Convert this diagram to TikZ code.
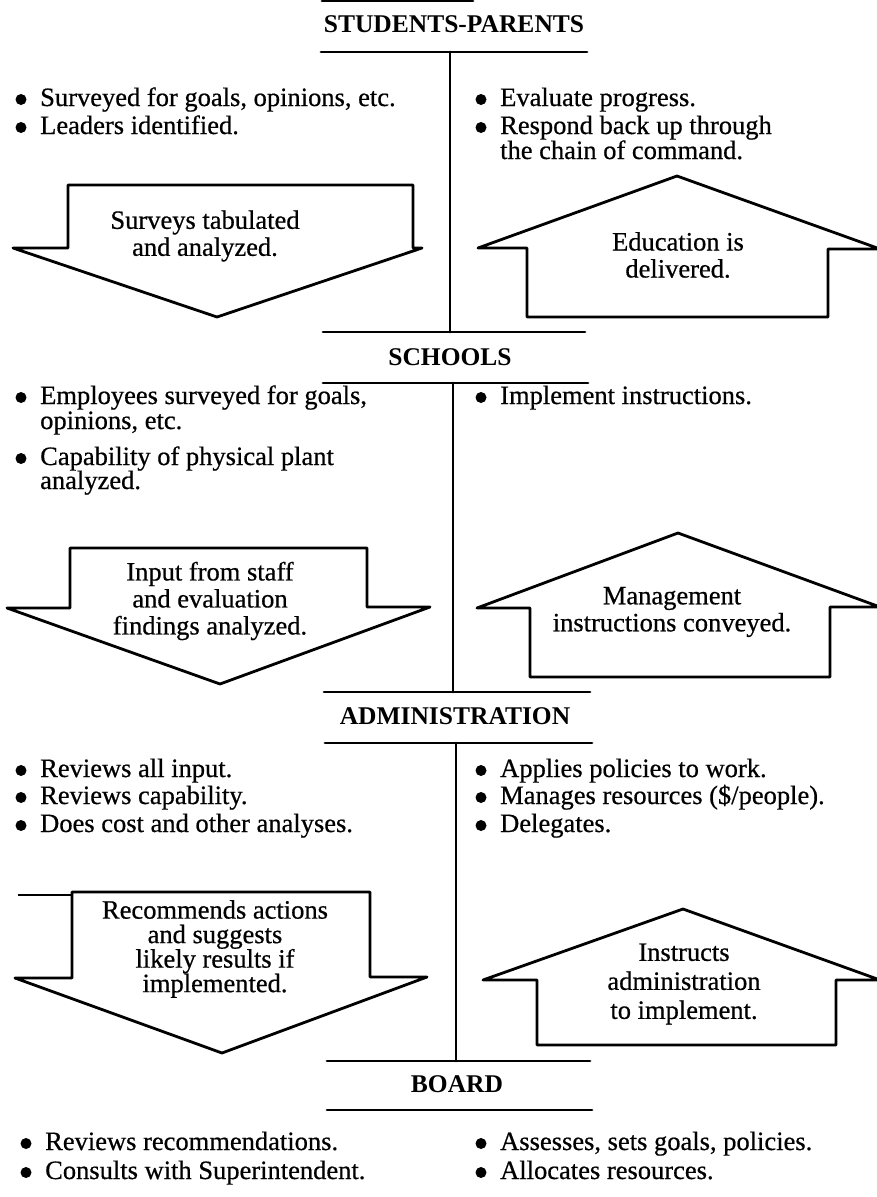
\documentclass[tikz,border=0pt]{standalone}
\usepackage{fontspec}
\setmainfont{Liberation Serif}
\newfontfamily\bodyfont{Liberation Serif}[FakeBold=0.6]
\newcommand\bitem[4]{%
  \node[txt] (#1) at (#2,#3) {#4};
  \fill ([xshift=-19pt]#1.base west) ++(0,-6.5) circle (5.5);
}
\begin{document}
\begin{tikzpicture}[x=1pt,y=-1pt,
  hd/.style={font=\fontsize{25.5}{30}\selectfont\bfseries, inner sep=0pt},
  txt/.style={font=\bodyfont\fontsize{26.5}{28}\selectfont, inner sep=0pt, anchor=base west},
  atxt/.style={font=\bodyfont\fontsize{26.5}{27}\selectfont, inner sep=0pt, align=center},
  ln/.style={line width=2.8pt, line cap=round},
  arr/.style={line width=2.8pt, line join=round}]
\useasboundingbox (0,0) rectangle (876,1197);

% ---------- STUDENTS-PARENTS ----------
\draw[ln] (322,1) -- (473,1);
\node[hd] (sp) at (454,24) {STUDENTS-PARENTS};
\draw[ln] (321,52) coordinate (sp1) -- (587,52) coordinate (sp2);
\coordinate (v1a) at (450,52);
\coordinate (v1b) at (450,332);
\draw[ln] (v1a) -- (v1b);

\bitem{s1a}{40}{106}{Surveyed for goals, opinions, etc.}
\bitem{s1b}{40}{134}{Leaders identified.}
\bitem{s1c}{500}{106}{Evaluate progress.}
\bitem{s1d}{500}{134}{Respond back up through}
\node[txt] (s1d2) at (500,159) {the chain of command.};

\draw[arr] (68,185) -- (413,185) -- (413,248) -- (422,248) -- (217,317) -- (13,248) -- (68,248) -- cycle;
\node[atxt] (a1) at (205,236) {Surveys tabulated\\and analyzed.};
\draw[arr] (527,317) -- (527,248) -- (478,248) -- (677,176) -- (880,249) -- (828,249) -- (828,317) -- cycle;
\node[atxt] (b1) at (678,255) {Education is\\delivered.};

% ---------- SCHOOLS ----------
\draw[ln] (323,332) -- (585,332);
\node[hd] (sch) at (450,357) {SCHOOLS};
\draw[ln] (323,383) -- (588,383);
\coordinate (v2a) at (453,383);
\coordinate (v2b) at (453,692);
\draw[ln] (v2a) -- (v2b);

\bitem{s2a}{40}{404}{Employees surveyed for goals,}
\node[txt] (s2a2) at (40,429) {opinions, etc.};
\bitem{s2b}{40}{465}{Capability of physical plant}
\node[txt] (s2b2) at (40,489) {analyzed.};
\bitem{s2c}{500}{404}{Implement instructions.}

\draw[arr] (70,548) -- (367,548) -- (367,607) -- (430,607) -- (220,684) -- (7,608) -- (70,608) -- cycle;
\node[atxt] (a2) at (210,601) {Input from staff\\and evaluation\\findings analyzed.};
\draw[arr] (530,677) -- (530,608) -- (477,608) -- (678,533) -- (880,607) -- (830,607) -- (830,677) -- cycle;
\node[atxt] (b2) at (672,612) {Management\\instructions conveyed.};

% ---------- ADMINISTRATION ----------
\draw[ln] (324,692) -- (590,692);
\node[hd] (adm) at (455,716) {ADMINISTRATION};
\draw[ln] (325,743) -- (592,743);
\coordinate (v3a) at (456,743);
\coordinate (v3b) at (456,1061);
\draw[ln] (v3a) -- (v3b);

\bitem{s3a}{40}{777}{Reviews all input.}
\bitem{s3b}{40}{804}{Reviews capability.}
\bitem{s3c}{40}{832}{Does cost and other analyses.}
\bitem{s3d}{500}{777}{Applies policies to work.}
\bitem{s3e}{500}{804}{Manages resources (\$/people).}
\bitem{s3f}{500}{832}{Delegates.}

\draw[line width=1.2pt] (18,895) -- (72,895);
\draw[arr] (72,892) -- (370,892) -- (370,977) -- (427,977) -- (222,1053) -- (15,978) -- (72,978) -- cycle;
\node[atxt,font=\bodyfont\fontsize{26.5}{24.5}\selectfont] (a3) at (215,949) {Recommends actions\\and suggests\\likely results if\\implemented.};
\draw[arr] (537,1045) -- (537,980) -- (483,980) -- (683,909) -- (880,980) -- (836,980) -- (836,1045) -- cycle;
\node[atxt,font=\bodyfont\fontsize{26.5}{29}\selectfont] (b3) at (684,984) {Instructs\\administration\\to implement.};

% ---------- BOARD ----------
\draw[ln] (327,1061) -- (590,1061);
\node[hd] (brd) at (457,1084) {BOARD};
\draw[ln] (327,1110) -- (592,1110);

\bitem{s4a}{45}{1150}{Reviews recommendations.}
\bitem{s4b}{45}{1179}{Consults with Superintendent.}
\bitem{s4c}{500}{1150}{Assesses, sets goals, policies.}
\bitem{s4d}{500}{1179}{Allocates resources.}
\end{tikzpicture}
\end{document}
